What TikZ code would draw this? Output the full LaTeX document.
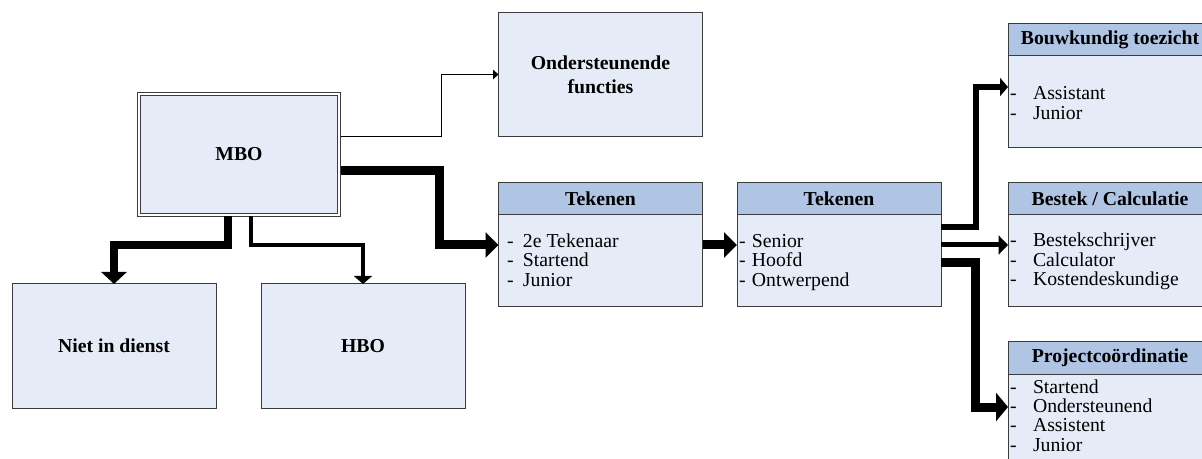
\documentclass[tikz,border=0pt]{standalone}
\usepackage{fontspec}
\setmainfont{Liberation Serif}
\usetikzlibrary{arrows.meta,calc}
\definecolor{bodyfill}{RGB}{229,236,247}
\definecolor{headfill}{RGB}{176,196,228}
\definecolor{edgegray}{RGB}{60,60,60}
\newcommand\bodyfont{\fontsize{14.8}{18}\selectfont}
\newcommand\itemlist[2]{\vtop{\baselineskip=14.6pt\lineskiplimit=-100pt\lineskip=0pt\def\li##1{\hbox{\makebox[#1][l]{-}##1}}#2}}
\begin{document}
\begin{tikzpicture}[x=0.75pt,y=-0.75pt,
  box/.style={draw=edgegray,fill=bodyfill,line width=0.75pt,inner sep=0pt,outer sep=0pt,
    minimum width=153pt,minimum height=93pt,font=\bodyfont\bfseries,align=center},
  head/.style={draw=edgegray,fill=headfill,line width=0.75pt,inner sep=0pt,outer sep=0pt,
    minimum width=153pt,minimum height=24pt,anchor=north,font=\bodyfont\bfseries},
  list/.style={anchor=base west,inner sep=0pt,outer sep=0pt,font=\bodyfont},
  conn/.style={draw=black,line join=miter,line cap=butt},
  thinarrow/.style={conn,line width=0.75pt,-{Triangle[length=4pt,width=7pt]}},
  heavyarrow/.style={conn,line width=6.75pt,-{Triangle[length=9.75pt,width=18.75pt]}},
  midarrow/.style={conn,line width=4.5pt,-{Triangle[length=6pt,width=13.5pt]}},
  lightarrow/.style={conn,line width=3.75pt,-{Triangle[length=7pt,width=14pt]}}
]
\useasboundingbox (0,0) rectangle (1202,459);
\clip (0,0) rectangle (1202,459);

% boxes
\node[box,minimum width=150pt,minimum height=90.75pt,double=white,double distance=2pt] (mbo) at (239,154.5) {MBO};
\node[box] (ond) at (600.5,74.5) {Ondersteunende\\functies};
\node[box] (tek1) at (600.5,245) {};
\node[head] (tek1h) at (tek1.north) {Tekenen};
\node[box] (tek2) at (839,245) {};
\node[head] (tek2h) at (tek2.north) {Tekenen};
\node[box] (bouw) at (1110,86) {};
\node[head] (bouwh) at (bouw.north) {Bouwkundig toezicht};
\node[box] (best) at (1110,245) {};
\node[head] (besth) at (best.north) {Bestek / Calculatie};
\node[box] (proj) at (1110,404) {};
\node[head] (projh) at (proj.north) {Projectcoördinatie};
\node[box] (niet) at (114,346) {Niet in dienst};
\node[box] (hbo) at (363,346) {HBO};

% lists
\node[list] (tek1l) at (507,247.5) {\itemlist{12pt}{\li{2e Tekenaar}\li{Startend}\li{Junior}}};
\node[list] (tek2l) at (739,247.5) {\itemlist{9.75pt}{\li{Senior}\li{Hoofd}\li{Ontwerpend}}};
\node[list] (bouwl) at (1010,100) {\itemlist{17.25pt}{\li{Assistant}\li{Junior}}};
\node[list] (bestl) at (1010,247) {\itemlist{17.25pt}{\li{Bestekschrijver}\li{Calculator}\li{Kostendeskundige}}};
\node[list] (projl) at (1010,393) {\itemlist{17.25pt}{\li{Startend}\li{Ondersteunend}\li{Assistent}\li{Junior}}};

% connectors
\draw[thinarrow] ($(mbo.east)+(1.5,-17.5)$) -| ($(ond.west)+(-57,0)$) -- (ond.west);
\draw[heavyarrow] ($(mbo.east)+(1.5,16.5)$) -| ($(tek1.west)+(-59,0)$) -- (tek1.west);
\draw[heavyarrow] (tek1.east) -- (tek2.west);
\draw[midarrow] ($(tek2.east)+(0,-18)$) -| ($(bouw.west)+(-32,1)$) -- ($(bouw.west)+(0,1)$);
\draw[lightarrow] (tek2.east) -- (best.west);
\draw[conn,line width=6.75pt,-{Triangle[length=9pt,width=21pt]}] ($(tek2.east)+(0,17.5)$) -| ($(proj.west)+(-33,3)$) -- ($(proj.west)+(0,3)$);
\draw[conn,line width=6pt,-{Triangle[length=9pt,width=18.75pt]}] ($(mbo.south)+(-11,1.5)$) |- ($(niet.north)+(0,-39)$) -- (niet.north);
\draw[conn,line width=3pt,-{Triangle[length=6pt,width=13.5pt]}] ($(mbo.south)+(12,1.5)$) |- ($(hbo.north)+(0,-39)$) -- (hbo.north);
\end{tikzpicture}
\end{document}
